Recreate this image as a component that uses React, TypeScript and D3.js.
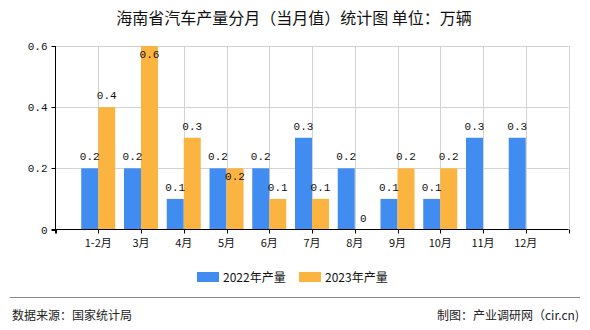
import React from "react";
import * as d3 from "d3";

const categories = ["1-2月", "3月", "4月", "5月", "6月", "7月", "8月", "9月", "10月", "11月", "12月"];
const series2022: (number | null)[] = [0.2, 0.2, 0.1, 0.2, 0.2, 0.3, 0.2, 0.1, 0.1, 0.3, 0.3];
const series2023: (number | null)[] = [0.4, 0.6, 0.3, 0.2, 0.1, 0.1, 0, 0.2, 0.2, null, null];
const yTicks = [0, 0.2, 0.4, 0.6];
const seriesNames = ["2022年产量", "2023年产量"];
const colors = ["#418CF0", "#FCB441"];

const W = 590, H = 330;
const left = 55.5, right = 568.5, top = 46, bottom = 229.5;
const cjk = "'Noto Sans CJK SC', 'Noto Sans', sans-serif";
const mono = "'Liberation Mono', 'DejaVu Sans Mono', monospace";

export default function App() {
  const x = d3.scaleLinear().domain([0, 12]).range([left, right]);
  const y = d3.scaleLinear().domain([0, 0.6]).range([bottom, top]);
  const bw = 17;
  const fmt = (v: number) => (v === 0 ? "0" : d3.format(".1f")(v));

  const labelY = (v: number, other: number | null, isSecond: boolean) => {
    const t = y(v);
    if (t - 8 < top || (isSecond && other !== null && other === v)) return t + 12;
    return t - 8;
  };

  return (
    <svg width={W} height={H} style={{ position: "absolute", left: 0, top: 0, background: "#fff" }}>
      <text x={294} y={24} textAnchor="middle" fontFamily={cjk} fontSize={16} fill="#111">
        海南省汽车产量分月（当月值）统计图 单位：万辆
      </text>
      {/* grid */}
      {yTicks.filter((t) => t > 0).map((t) => (
        <line key={"hy" + t} x1={left} x2={right} y1={Math.round(y(t)) + 0.5} y2={Math.round(y(t)) + 0.5} stroke="#d3d3d3" />
      ))}
      {d3.range(1, 13).map((i) => (
        <line key={"vx" + i} x1={Math.round(x(i)) + 0.5} x2={Math.round(x(i)) + 0.5} y1={top} y2={bottom} stroke="#d3d3d3" />
      ))}
      {/* bars */}
      {categories.map((c, i) => {
        const cx = x(i + 1);
        const a = series2022[i];
        const b = series2023[i];
        return (
          <g key={c}>
            {a !== null && a > 0 && (
              <rect x={cx - bw} y={y(a)} width={bw} height={bottom - y(a)} fill={colors[0]} />
            )}
            {b !== null && b > 0 && (
              <rect x={cx} y={y(b)} width={bw} height={bottom - y(b)} fill={colors[1]} />
            )}
          </g>
        );
      })}
      {/* axes */}
      <line x1={left} x2={left} y1={top} y2={bottom + 4} stroke="#000" />
      <line x1={left - 4} x2={right} y1={bottom} y2={bottom} stroke="#000" />
      {yTicks.map((t) => (
        <g key={"yt" + t}>
          <line x1={left - 4} x2={left} y1={Math.round(y(t)) + 0.5} y2={Math.round(y(t)) + 0.5} stroke="#000" />
          <text x={left - 8} y={y(t) + 4} textAnchor="end" fontFamily={mono} fontSize={11} fill="#111">
            {t === 0 ? "0" : d3.format(".1f")(t)}
          </text>
        </g>
      ))}
      {d3.range(0, 13).map((i) => (
        <line key={"xt" + i} x1={Math.round(x(i)) + 0.5} x2={Math.round(x(i)) + 0.5} y1={bottom} y2={bottom + 4} stroke="#000" />
      ))}
      {categories.map((c, i) => (
        <text key={"xl" + c} x={x(i + 1)} y={247} textAnchor="middle" fontFamily={cjk} fontSize={11} fill="#111">
          {c}
        </text>
      ))}
      {/* value labels */}
      {categories.map((c, i) => {
        const cx = x(i + 1);
        const a = series2022[i];
        const b = series2023[i];
        return (
          <g key={"vl" + c} fontFamily={mono} fontSize={11} fill="#111" textAnchor="middle">
            {a !== null && <text x={cx - bw / 2} y={labelY(a, b, false)}>{fmt(a)}</text>}
            {b !== null && <text x={cx + bw / 2} y={labelY(b, a, true)}>{fmt(b)}</text>}
          </g>
        );
      })}
      {/* legend */}
      {seriesNames.map((n, i) => (
        <g key={n} transform={`translate(${197 + i * 102},272)`}>
          <rect x={0} y={0} width={22} height={10} fill={colors[i]} />
          <text x={26} y={9.5} fontFamily={cjk} fontSize={12} fill="#111">{n}</text>
        </g>
      ))}
      {/* footer */}
      <line x1={10} x2={580} y1={297.5} y2={297.5} stroke="#888" />
      <text x={12} y={320} fontFamily={cjk} fontSize={12} fill="#222">数据来源：国家统计局</text>
      <text x={579} y={320} textAnchor="end" fontFamily={cjk} fontSize={12} fill="#222">制图：产业调研网（cir.cn)</text>
    </svg>
  );
}
